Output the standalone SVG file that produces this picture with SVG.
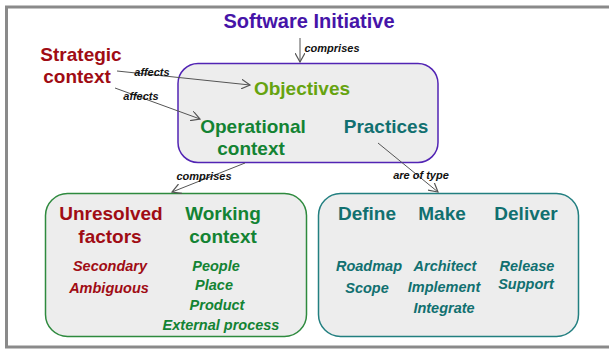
<svg xmlns="http://www.w3.org/2000/svg" width="609" height="351" viewBox="0 0 609 351">
<defs>
<marker id="arr" viewBox="0 0 10 10" refX="9" refY="5" markerWidth="10" markerHeight="10" markerUnits="userSpaceOnUse" orient="auto">
<path d="M0,0 L9,5 L0,10" fill="none" stroke="#555" stroke-width="1.2"/>
</marker>
<style>
.t{font-family:"Liberation Sans",Arial,sans-serif;font-weight:bold;text-anchor:middle}
.h{font-size:19px}
.i{font-size:14.5px;font-style:italic}
.l{font-size:11px;font-style:italic;fill:#111}
.red{fill:#a00c14}
.grn{fill:#138333}
.tea{fill:#117070}
.c{stroke:#555;stroke-width:1;fill:none;marker-end:url(#arr)}
</style>
</defs>
<rect width="609" height="351" fill="#fff"/>
<rect x="6.5" y="7" width="620" height="340" fill="none" stroke="#8a8a8a" stroke-width="3"/>
<g id="software-initiative"><text class="t" x="309" y="28" font-size="20" fill="#4614a8">Software Initiative</text></g>
<g id="strategic-context"><text class="t h red" x="81" y="61">Strategic</text><text class="t h red" x="77" y="83">context</text></g>
<g id="top-box">
<rect x="178" y="63.5" width="260" height="99" rx="20" fill="#ededed" stroke="#5224b4" stroke-width="1.5"/>
<text class="t h" x="302" y="95" fill="#66a30f">Objectives</text>
<text class="t h grn" x="253" y="133">Operational</text>
<text class="t h grn" x="251" y="155">context</text>
<text class="t h tea" x="386" y="133">Practices</text>
</g>
<g id="context-box">
<rect x="45.5" y="193.5" width="261" height="143" rx="22" fill="#ededed" stroke="#2e8a3e" stroke-width="1.5"/>
<text class="t h red" x="111" y="220">Unresolved</text>
<text class="t h red" x="110" y="243">factors</text>
<text class="t h grn" x="223" y="220">Working</text>
<text class="t h grn" x="223" y="243">context</text>
<text class="t i red" x="110" y="271">Secondary</text>
<text class="t i red" x="109" y="293">Ambiguous</text>
<text class="t i grn" x="216" y="271">People</text>
<text class="t i grn" x="214" y="290">Place</text>
<text class="t i grn" x="217" y="310">Product</text>
<text class="t i grn" x="221" y="330">External process</text>
</g>
<g id="practice-box">
<rect x="318.5" y="193.5" width="260" height="143" rx="22" fill="#ededed" stroke="#227f80" stroke-width="1.5"/>
<text class="t h tea" x="367" y="220">Define</text>
<text class="t h tea" x="442" y="220">Make</text>
<text class="t h tea" x="526" y="220">Deliver</text>
<text class="t i tea" x="369" y="271">Roadmap</text>
<text class="t i tea" x="367" y="293">Scope</text>
<text class="t i tea" x="445" y="271">Architect</text>
<text class="t i tea" x="444" y="292">Implement</text>
<text class="t i tea" x="444" y="313">Integrate</text>
<text class="t i tea" x="527" y="271">Release</text>
<text class="t i tea" x="526" y="289">Support</text>
</g>
<g id="connectors">
<path class="c" d="M300,38 L300,62"/>
<path class="c" d="M117,71 L250,85"/>
<path class="c" d="M115,88 L200,119"/>
<path class="c" d="M245,163 L172,192"/>
<path class="c" d="M378,143 L438,192"/>
<text class="t l" x="332" y="52">comprises</text>
<text class="t l" x="152" y="76">affects</text>
<text class="t l" x="141" y="100">affects</text>
<text class="t l" x="204" y="180">comprises</text>
<text class="t l" x="421" y="179">are of type</text>
</g>
</svg>
